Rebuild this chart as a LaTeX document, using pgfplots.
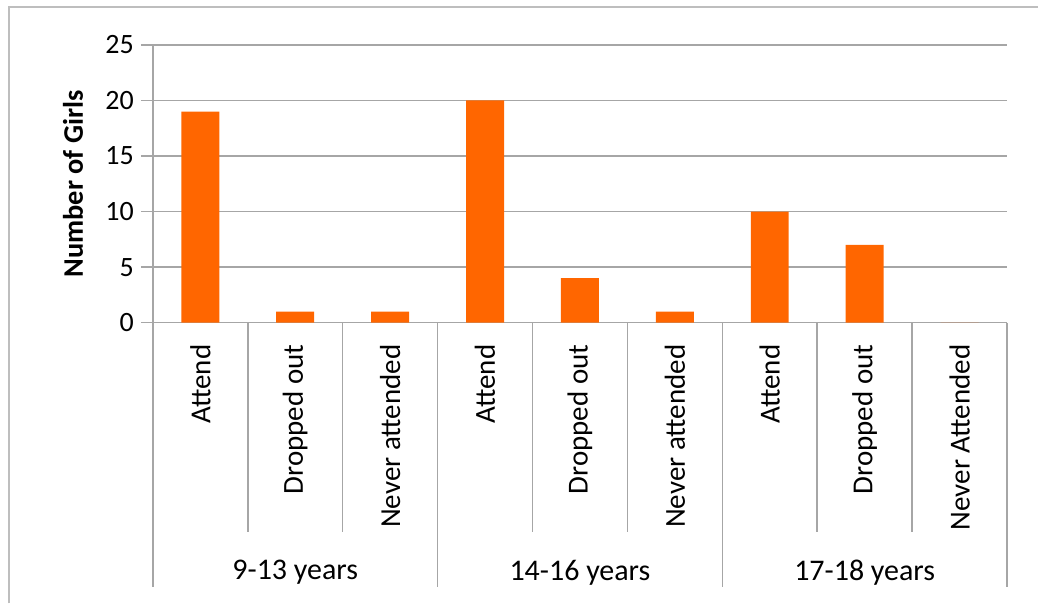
\documentclass[border=0pt]{standalone}
\usepackage{pgfplots}
\pgfplotsset{compat=1.18}
\usepackage{fontspec}
\setmainfont{Carlito}
\definecolor{barorange}{RGB}{255,102,0}
\definecolor{linegray}{RGB}{166,166,166}
\definecolor{framegray}{RGB}{190,190,190}

\begin{document}
\begin{tikzpicture}[x=0.5pt,y=0.5pt]
  % page size and outer frame (only top and left are visible in the reference)
  \path (0,0) rectangle (1039,604);
  \draw[framegray, line width=1pt] (9,0) -- (9,597) -- (1039,597);

  \begin{axis}[
      at={(76.5pt,140.5pt)}, anchor=south west,
      scale only axis,
      width=427.5pt, height=139pt,
      ybar, bar width=19pt,
      xmin=-0.5, xmax=8.5,
      ymin=0, ymax=25,
      ytick={0,5,10,15,20,25},
      xtick=data,
      xticklabels={Attend,Dropped out,Never attended,Attend,Dropped out,Never attended,Attend,Dropped out,Never Attended},
      xticklabel style={rotate=90, anchor=east, font=\fontsize{14.5}{16}\selectfont},
      xticklabel shift=1.5pt,
      xtick style={draw=none},
      yticklabel style={font=\fontsize{14}{16}\selectfont},
      tick align=outside,
      ytick pos=left,
      major tick length=6pt,
      ytick style={linegray, line width=0.8pt},
      ymajorgrids,
      grid style={linegray, line width=0.8pt},
      axis x line*=bottom,
      axis y line*=left,
      axis line style={linegray, line width=0.8pt},
      /pgf/number format/assume math mode=true,
      clip=false,
    ]
    \addplot[fill=barorange, draw=none] coordinates {
      (0,19) (1,1) (2,1) (3,20) (4,4) (5,1) (6,10) (7,7) (8,0)
    };
  \end{axis}

  % category separators below the x axis
  \foreach \k in {1,2,4,5,7,8}
    \draw[linegray, line width=0.8pt] (153+95*\k,281) -- (153+95*\k,71);
  \foreach \k in {0,3,6,9}
    \draw[linegray, line width=0.8pt] (153+95*\k,281) -- (153+95*\k,16);

  % group labels
  \foreach \lab [count=\i from 0] in {9-13 years,14-16 years,17-18 years}
    \node[font=\fontsize{15}{17}\selectfont] at (295.5+285*\i,31) {\lab};

  % y axis title
  \node[rotate=90, font=\bfseries\fontsize{14.2}{16}\selectfont] at (73,420) {Number of Girls};
\end{tikzpicture}
\end{document}
